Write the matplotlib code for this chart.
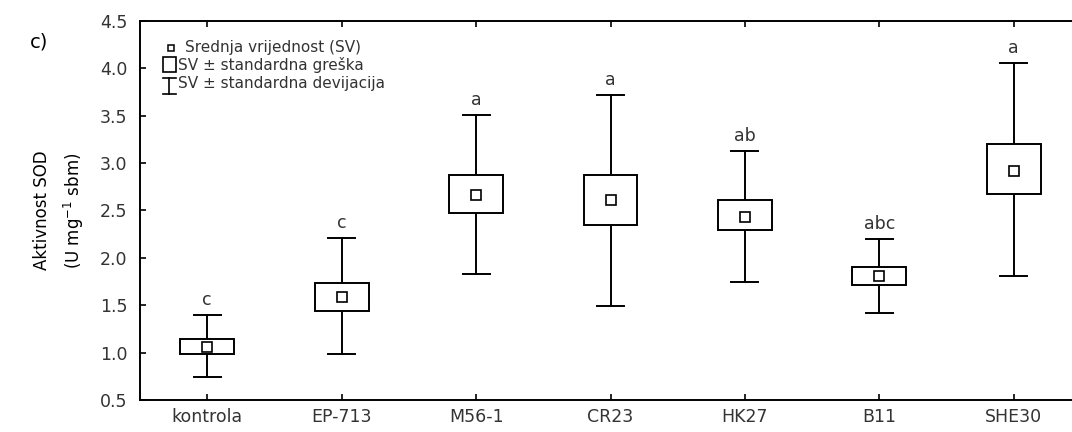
import matplotlib.pyplot as plt
import numpy as np
from matplotlib.patches import Rectangle

plt.rcParams["font.family"] = ["DejaVu Sans"]
plt.rcParams["text.color"] = "#333333"

# SOD activity per treatment: mean, mean ± SE box, mean ± SD whiskers
groups = ["kontrola", "EP-713", "M56-1", "CR23", "HK27", "B11", "SHE30"]
mean = [1.06, 1.59, 2.66, 2.61, 2.43, 1.81, 2.92]
se_low = [0.99, 1.44, 2.47, 2.35, 2.29, 1.71, 2.67]
se_high = [1.14, 1.74, 2.87, 2.87, 2.61, 1.90, 3.20]
sd_low = [0.74, 0.99, 1.83, 1.49, 1.75, 1.42, 1.81]
sd_high = [1.40, 2.21, 3.51, 3.72, 3.13, 2.20, 4.06]
letters = ["c", "c", "a", "a", "ab", "abc", "a"]

fig = plt.figure(figsize=(10.72, 4.32), dpi=100)
ax = fig.add_axes([0.1306, 0.0741, 0.8778, 0.8773])

lw = 1.4
box_w = 0.40
cap_w = 0.20
x = np.arange(len(groups))

for i in x:
    # whiskers (SD)
    ax.plot([i, i], [se_high[i], sd_high[i]], color="black", lw=lw)
    ax.plot([i, i], [sd_low[i], se_low[i]], color="black", lw=lw)
    ax.plot([i - cap_w / 2, i + cap_w / 2], [sd_high[i]] * 2, color="black", lw=lw)
    ax.plot([i - cap_w / 2, i + cap_w / 2], [sd_low[i]] * 2, color="black", lw=lw)
    # box (SE)
    ax.add_patch(Rectangle((i - box_w / 2, se_low[i]), box_w, se_high[i] - se_low[i],
                           facecolor="white", edgecolor="black", lw=lw, zorder=3))
    # mean
    ax.plot(i, mean[i], marker="s", ms=6.5, mfc="white", mec="black", mew=1.2, zorder=4)
    ax.annotate(letters[i], (i, sd_high[i]), xytext=(0, 7), textcoords="offset points",
                ha="center", va="baseline", fontsize=12.5)

ax.set_xlim(-0.5, 6.5)
ax.set_ylim(0.5, 4.5)
yt = np.arange(0.5, 4.51, 0.5)
ax.set_yticks(yt)
ax.set_yticklabels([f"{v:.1f}" for v in yt])
ax.set_xticks(x)
ax.set_xticklabels(groups)
ax.tick_params(direction="in", length=4, width=1.2, labelsize=12.5, labelcolor="#333333",
               top=True, right=True)
ax.tick_params(axis="x", pad=6)
ax.tick_params(axis="y", pad=9)
for s in ax.spines.values():
    s.set_linewidth(1.4)

ax.set_ylabel("Aktivnost SOD\n(U mg$^{-1}$ sbm)", fontsize=12, linespacing=1.6,
              va="center", ha="center")
ax.yaxis.set_label_coords(-0.086, 0.5)

fig.text(0.028, 0.903, "c)", fontsize=14, color="black", va="center")

# legend drawn by hand in axes coordinates
tr = ax.transAxes
ax.plot(0.0329, 0.9288, transform=tr, marker="s", ms=4.2, mfc="white", mec="black",
        mew=1.1, clip_on=False)
ax.text(0.0478, 0.9288, "Srednja vrijednost (SV)", transform=tr, fontsize=11,
        va="center")
ax.add_patch(Rectangle((0.0244, 0.866), 0.0138, 0.040, transform=tr,
                       facecolor="white", edgecolor="black", lw=1.2))
ax.text(0.0404, 0.884, "SV ± standardna greška", transform=tr, fontsize=11,
        va="center")
ax.plot([0.0313, 0.0313], [0.808, 0.849], transform=tr, color="black", lw=1.2)
ax.plot([0.0244, 0.0382], [0.849, 0.849], transform=tr, color="black", lw=1.2)
ax.plot([0.0244, 0.0382], [0.808, 0.808], transform=tr, color="black", lw=1.2)
ax.text(0.0404, 0.836, "SV ± standardna devijacija", transform=tr, fontsize=11,
        va="center")

fig.savefig("out.png", dpi=100)
